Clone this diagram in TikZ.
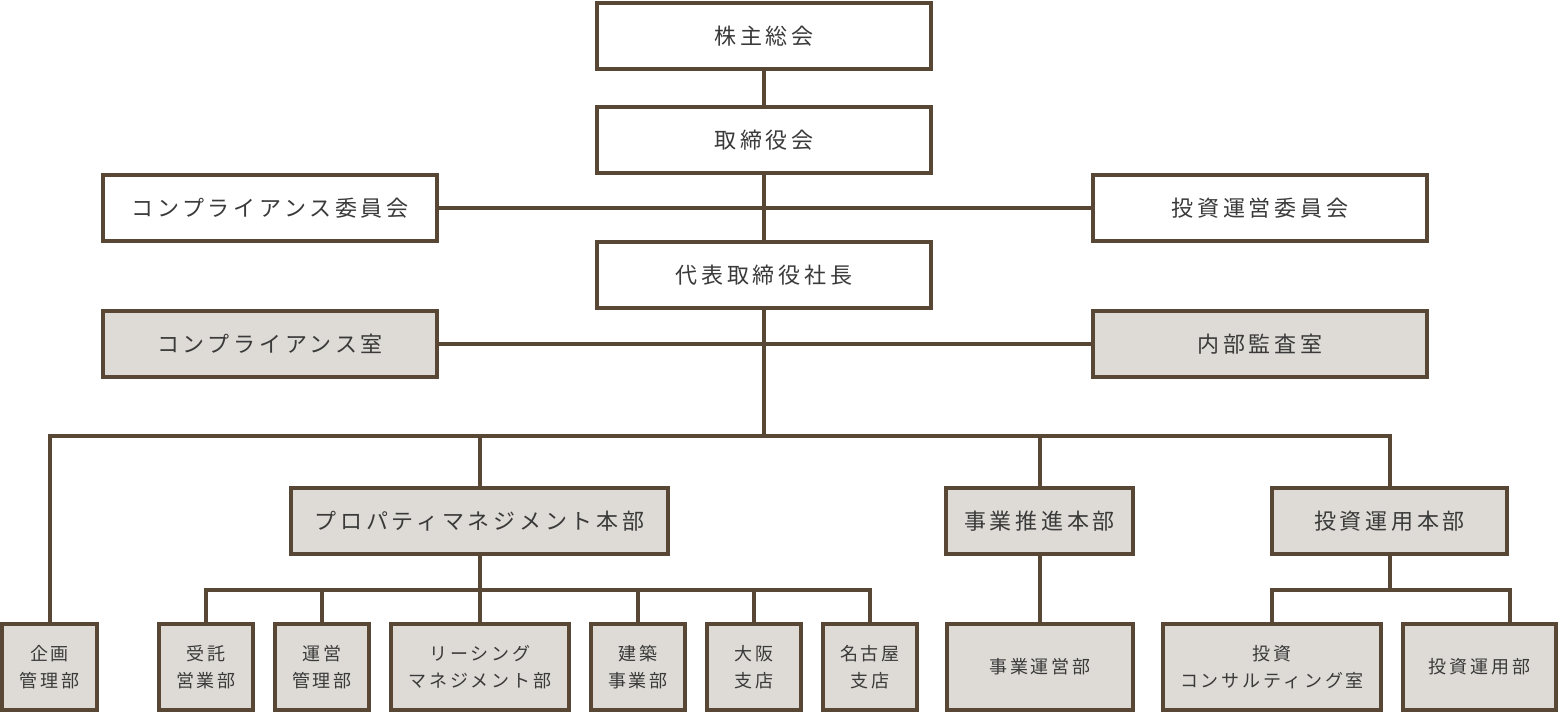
\documentclass[tikz,border=0pt]{standalone}
\usepackage{fontspec}
\newfontfamily\jpfont[LetterSpace=17]{Noto Sans CJK JP}
\newfontfamily\jpsmall[LetterSpace=16]{Noto Sans CJK JP}
\definecolor{lc}{RGB}{88,71,52}
\definecolor{fc}{RGB}{222,219,214}
\definecolor{tc}{RGB}{58,58,58}
\tikzset{
  box/.style={draw=lc, line width=4pt, inner sep=0pt, outer sep=0pt, minimum height=66pt,
    text=tc, font=\jpfont\fontsize{22}{26}\selectfont, align=center},
  wbox/.style={box, fill=white},
  gbox/.style={box, fill=fc},
  sbox/.style={gbox, minimum height=86pt, font=\jpsmall\fontsize{18}{27}\selectfont},
  conn/.style={draw=lc, line width=4pt, line join=miter}
}
\begin{document}
\begin{tikzpicture}[x=1pt,y=-1pt]
\useasboundingbox (0,0) rectangle (1560,713);
% top
\node[wbox, minimum width=334pt] (kabu) at (764,36) {株主総会};
\node[wbox, minimum width=334pt] (tori) at (764,140) {取締役会};
\node[wbox, minimum width=334pt] (compI) at (270,208) {コンプライアンス委員会};
\node[wbox, minimum width=334pt] (toushiI) at (1260,208) {投資運営委員会};
\node[wbox, minimum width=334pt] (daihyo) at (764,275) {代表取締役社長};
\node[gbox, minimum width=334pt] (compR) at (270,344) {コンプライアンス室};
\node[gbox, minimum width=334pt] (naibu) at (1260,344) {内部監査室};
\coordinate (hub) at (764,436);
% divisions
\node[gbox, minimum width=377pt] (pmH) at (479.5,521) {プロパティマネジメント本部};
\node[gbox, minimum width=187pt] (jgH) at (1039.5,521) {事業推進本部};
\node[gbox, minimum width=235pt] (tuH) at (1389.5,521) {投資運用本部};
% bottom row
\node[sbox, minimum width=95pt] (kikaku) at (49.5,667) {企画\\管理部};
\node[sbox, minimum width=94pt] (jutaku) at (206,667) {受託\\営業部};
\node[sbox, minimum width=94pt] (unei) at (322,667) {運営\\管理部};
\node[sbox, minimum width=178pt] (leasing) at (480,667) {リーシング\\マネジメント部};
\node[sbox, minimum width=94pt] (kenchiku) at (638,667) {建築\\事業部};
\node[sbox, minimum width=94pt] (osaka) at (754,667) {大阪\\支店};
\node[sbox, minimum width=94pt] (nagoya) at (870,667) {名古屋\\支店};
\node[sbox, minimum width=186pt] (jgU) at (1040,667) {事業運営部};
\node[sbox, minimum width=218pt] (consul) at (1272,667) {投資\\コンサルティング室};
\node[sbox, minimum width=153pt] (tuB) at (1479.5,667) {投資運用部};
\coordinate (pmbar) at (479.5,590);
\coordinate (tubarR) at (1510,590);
% connectors
\draw[conn] (kabu) -- (tori);
\draw[conn] (tori) -- (daihyo);
\draw[conn] (compI) -- (toushiI);
\draw[conn] (compR) -- (naibu);
\draw[conn] (daihyo.south) -- (hub);
\draw[conn] (kikaku.north) |- (tuH.north |- hub) -- (tuH.north);
\foreach \n in {pmH, jgH} \draw[conn] (\n.north |- hub) -- (\n.north);
\draw[conn] (pmH.south) -- (pmbar);
\draw[conn] (jutaku.north) |- (nagoya.north |- pmbar) -- (nagoya.north);
\foreach \n in {unei, leasing, kenchiku, osaka} \draw[conn] (\n.north |- pmbar) -- (\n.north);
\draw[conn] (jgH.south) -- (jgU.north -| jgH.south);
\draw[conn] (tuH.south) -- (tuH.south |- tubarR);
\draw[conn] (consul.north) |- (tubarR) -- (tubarR |- tuB.north);
\end{tikzpicture}
\end{document}
